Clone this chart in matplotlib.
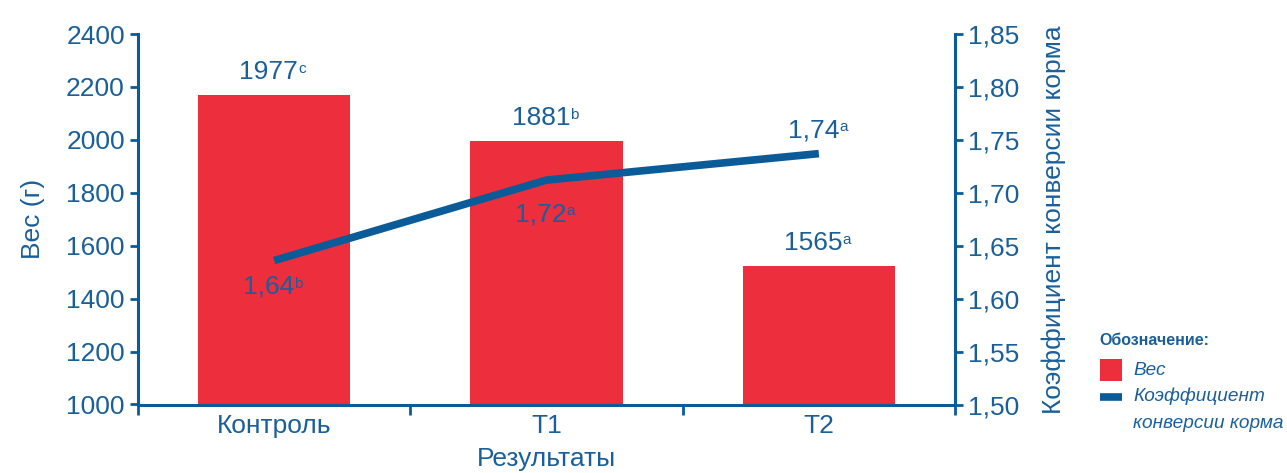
import matplotlib
matplotlib.use('Agg')
import matplotlib.pyplot as plt
from matplotlib.patches import Rectangle
from matplotlib.lines import Line2D

plt.rcParams['font.family'] = ['Liberation Sans', 'DejaVu Sans']

# data
groups = ['Контроль', 'T1', 'T2']
weight_bars = [2170, 1996, 1523]
weight_labels = ['1977', '1881', '1565']
weight_sup = ['c', 'b', 'a']
fcr = [1.636, 1.712, 1.737]
fcr_labels = ['1,64', '1,72', '1,74']
fcr_sup = ['b', 'a', 'a']
left_ticks = [1000, 1200, 1400, 1600, 1800, 2000, 2200, 2400]
right_ticks = [1.50, 1.55, 1.60, 1.65, 1.70, 1.75, 1.80, 1.85]

RED = '#ec2e3d'
BLUE = '#0b5b98'
TXT = '#1a5f9a'
FS = 19

W, H = 1287, 473
fig = plt.figure(figsize=(W / 100, H / 100), dpi=100)
ax = fig.add_axes([138 / W, 1 - 404.5 / H, 817 / W, 370.5 / H])
ax2 = ax.twinx()

x = list(range(len(groups)))
ax.bar(x, weight_bars, width=0.56, color=RED, zorder=2)
ax.set_ylim(1000, 2400)
ax.set_xlim(-0.5, 2.5)
ax.set_yticks(left_ticks)
ax.set_xticks(x)
ax.set_xticklabels(groups)
ax.set_xticks([-0.5, 0.5, 1.5, 2.5], minor=True)

ax2.plot(x, fcr, color=BLUE, lw=5.5, solid_capstyle='butt', zorder=3)
ax2.set_ylim(1.50, 1.85)
ax2.set_yticks(right_ticks)
ax2.set_yticklabels([f'{v:.2f}'.replace('.', ',') for v in right_ticks])


def label(a, xv, yv, txt, sup, dy):
    t = a.annotate(txt, (xv, yv), xytext=(-4, dy), textcoords='offset points',
                   ha='center', va='center', fontsize=FS, color=TXT, zorder=5)
    a.annotate(sup, xy=(1.0, 0.93), xycoords=t, ha='left', va='top',
               fontsize=11, color=TXT, zorder=5)


for i in x:
    label(ax, i, weight_bars[i], weight_labels[i], weight_sup[i], 16.5)
fcr_dy = [-19, -25, 16.5]
for i in x:
    label(ax2, i, fcr[i], fcr_labels[i], fcr_sup[i], fcr_dy[i])

for a in (ax, ax2):
    for s in a.spines.values():
        s.set_color(BLUE)
        s.set_linewidth(2.2)
    a.spines['top'].set_visible(False)
    a.tick_params(colors=BLUE, labelcolor=TXT, labelsize=FS, width=2, length=6)
ax.spines['right'].set_visible(False)
ax2.spines['left'].set_visible(False)
ax2.spines['bottom'].set_visible(False)
ax.tick_params(axis='x', which='major', length=0, pad=7)
ax.tick_params(axis='x', which='minor', length=7, width=2, color=BLUE)

ax.set_ylabel('Вес (г)', fontsize=FS, color=TXT, labelpad=15)
ax.set_xlabel('Результаты', fontsize=FS, color=TXT, labelpad=6)
ax2.set_ylabel('Коэффициент конверсии корма', fontsize=FS, color=TXT, labelpad=16)
ax.set_zorder(ax2.get_zorder() - 1)
ax2.patch.set_visible(False)

# legend, drawn by hand in figure pixels
px = fig.transFigure.inverted()
def fxy(xp, yp):
    return px.transform(fig.dpi_scale_trans.transform((xp / 100, (H - yp) / 100)))

fig.text(*fxy(1099, 340), 'Обозначение:', fontsize=11.5, fontweight='bold',
         color=TXT, va='center', ha='left')
x0, y0 = fxy(1100, 381)
x1, y1 = fxy(1122, 359)
fig.patches.append(Rectangle((x0, y0), x1 - x0, y1 - y0, transform=fig.transFigure,
                             facecolor=RED, edgecolor='none'))
lx0, ly = fxy(1100, 397)
lx1, _ = fxy(1122, 397)
fig.lines.append(Line2D([lx0, lx1], [ly, ly], transform=fig.transFigure,
                        color=BLUE, lw=5.5, solid_capstyle='butt'))
for txt, yp in [('Вес', 370), ('Коэффициент', 396), ('конверсии корма', 423)]:
    fig.text(*fxy(1133, yp), txt, fontsize=13.7, fontstyle='italic', color=TXT,
             va='center', ha='left')

fig.savefig('out.png', dpi=100)
